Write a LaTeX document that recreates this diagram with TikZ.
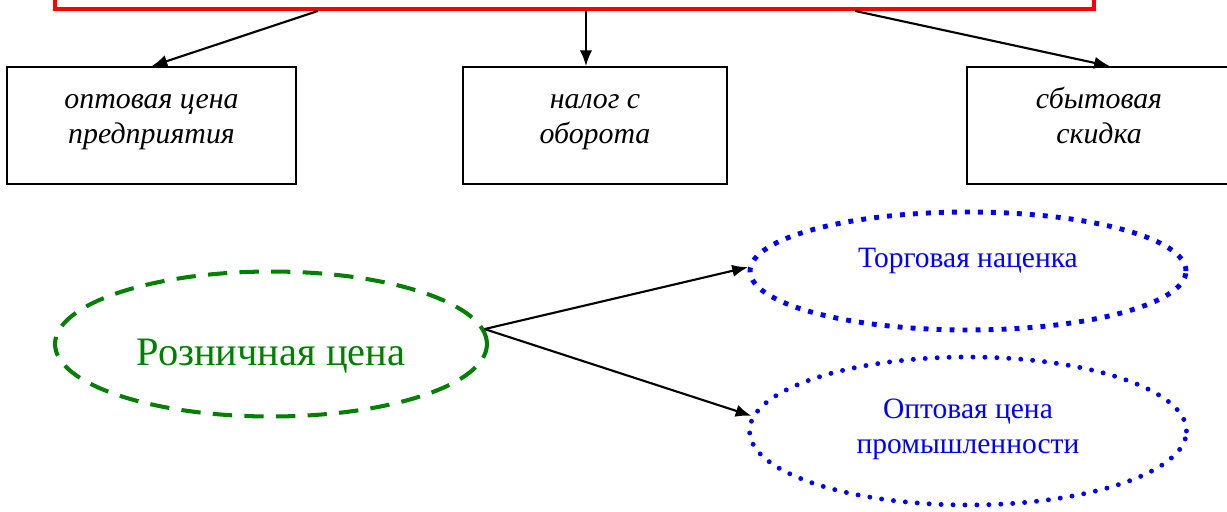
\documentclass[tikz,border=0pt]{standalone}
\usepackage{fontspec}
\setmainfont{Liberation Serif}
\usetikzlibrary{shapes.geometric}
\usetikzlibrary{arrows.meta}
\usetikzlibrary{calc}

\begin{document}
\begin{tikzpicture}
	[x=0.02cm, y=-0.02cm,
	arr/.style={-{Latex[length=9pt,width=7pt]}, line width=1.2pt},
	frame/.style={draw=red, line width=2.2pt, minimum width=20.78cm, minimum height=1.6cm},
	part/.style={draw, line width=0.9pt, minimum height=2.34cm, align=center, text height=24pt, text depth=3pt, font=\fontsize{17}{20}\selectfont\itshape},
	price/.style={ellipse, draw=green!50!black, text=green!50!black, line width=2.3pt, dash pattern=on 11pt off 7pt, inner sep=0pt, minimum width=8.64cm, minimum height=2.9cm, text height=27pt, text depth=2.1pt, font=\fontsize{23}{27}\selectfont},
	margin/.style={ellipse, draw=blue, text=blue, inner sep=0pt, align=center, font=\fontsize{16.8}{20}\selectfont}]

\clip (0,0) rectangle (1227,511);

\node [frame] (total) at (574.5,-31) {};
\node [part, minimum width=5.78cm] (wholesale) at (151.5,125.5) {оптовая цена\\предприятия};
\node [part, minimum width=5.28cm] (tax) at (595,125.5) {налог с\\оборота};
\node [part, minimum width=5.28cm] (discount) at (1099,125.5) {сбытовая\\скидка};

\node [price] (retail) at (271,344) {Розничная цена};
\node [margin, line width=2.8pt, dash pattern=on 2.8pt off 4.6pt, minimum width=8.72cm, minimum height=2.36cm, text height=8pt, text depth=12.5pt] (markup) at (968,271) {Торговая наценка};
\node [margin, line width=2.8pt, line cap=round, dash pattern=on 0pt off 6.8pt, minimum width=8.74cm, minimum height=2.96cm, text height=28pt, text depth=1.9pt] (industry) at (968,431) {Оптовая цена\\промышленности};

\coordinate (mid) at ($(total.south west)!0.511!(total.south east)$);
\draw [arr] ($(total.south west)!0.254!(total.south east)$) -- (wholesale.north);
\draw [arr] (mid) -- (mid |- tax.north);
\draw [arr] ($(total.south west)!0.769!(total.south east)$) -- ([xshift=0.22cm]discount.north);
\draw [arr] (retail.4) -- (markup.179);
\draw [arr] (retail.4) -- (industry.176);
\end{tikzpicture}
\end{document}
